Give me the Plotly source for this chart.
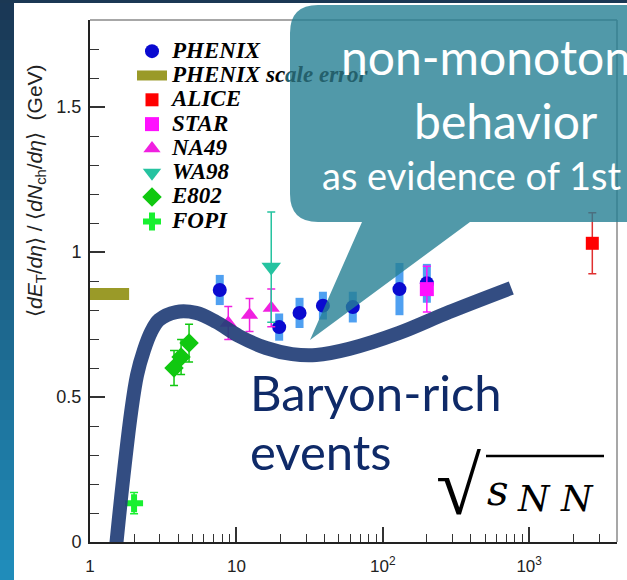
import plotly.graph_objects as go

# ---------------- data ----------------
phenix_x = [7.7, 19.6, 27, 39, 62.4, 130, 200]
phenix_y = [0.869, 0.741, 0.79, 0.815, 0.81, 0.872, 0.892]
phenix_sys = [0.052, 0.047, 0.052, 0.048, 0.053, 0.09, 0.067]

scale_x = [1.0, 1.85]
scale_y = [0.855, 0.855]

alice_x = [2700]
alice_y = [1.03]
alice_err = [0.105]

star_x = [200]
star_y = [0.872]
star_err = [0.079]

na49_x = [8.8, 12.3, 17.3]
na49_y = [0.755, 0.783, 0.807]
na49_err = [0.057, 0.057, 0.065]

wa98_x = [17.3]
wa98_y = [0.948]
wa98_err = [0.19]

e802_x = [3.75, 4.19, 4.75]
e802_y = [0.60, 0.638, 0.686]
e802_err = [0.06, 0.06, 0.065]

fopi_x = [2.0]
fopi_y = [0.134]
fopi_err = [0.037]

# hand-drawn "non-monotonic" curve overlay (GeV, value)
curve_x = [1.506, 1.681, 1.906, 2.096, 2.339, 2.612, 2.962, 3.871, 5.304, 7.264,
           10.43, 15.96, 24.03, 35.06, 58.93, 129.5, 284.4, 754.8]
curve_y = [-0.017, 0.214, 0.445, 0.576, 0.662, 0.724, 0.766, 0.793, 0.790, 0.759,
           0.710, 0.669, 0.648, 0.645, 0.666, 0.721, 0.793, 0.876]

x_tickvals = [1, 10, 100, 1000]
x_ticktext = ["1", "10", "10<sup>2</sup>", "10<sup>3</sup>"]
x_minor = [2, 3, 4, 5, 6, 7, 8, 9, 20, 30, 40, 50, 60, 70, 80, 90,
           200, 300, 400, 500, 600, 700, 800, 900, 2000, 3000]
y_tickvals = [0, 0.5, 1, 1.5]
y_ticktext = ["0", "0.5", "1", "1.5"]
y_minor = [0.1, 0.2, 0.3, 0.4, 0.6, 0.7, 0.8, 0.9, 1.1, 1.2, 1.3, 1.4, 1.6, 1.7]

# ---------------- layout geometry ----------------
W, H = 627, 580
L, R, T, B = 90, 10, 20, 38
PW, PH = W - L - R, H - T - B


def X(px):
    return (px - L) / PW


def Y(py):
    return (H - B - py) / PH


def big(name):
    return "<span style='font-size:23px'>" + name + "</span>"


fig = go.Figure()

# PHENIX systematic bars
fig.add_trace(go.Scatter(
    x=phenix_x, y=phenix_y, mode="markers", showlegend=False,
    marker=dict(size=1, color="rgba(0,0,0,0)"),
    error_y=dict(type="data", array=phenix_sys, thickness=8, width=0,
                 color="rgba(60,150,240,0.9)"),
    hoverinfo="skip"))

fig.add_trace(go.Scatter(
    x=phenix_x, y=phenix_y, mode="markers", name=big("PHENIX"), legendrank=1,
    marker=dict(symbol="circle", size=14, color="#0a0ad0")))

fig.add_trace(go.Scatter(
    x=scale_x, y=scale_y, mode="lines", legendrank=2,
    name=big("PHENIX sc<span style='color:#24606c'>ale error</span>"),
    line=dict(color="#9a9a28", width=12)))

fig.add_trace(go.Scatter(
    x=alice_x, y=alice_y, mode="markers", name=big("ALICE"), legendrank=3,
    marker=dict(symbol="square", size=13, color="#ff0000"),
    error_y=dict(type="data", array=alice_err, thickness=1.5, width=4,
                 color="#e03030")))

fig.add_trace(go.Scatter(
    x=star_x, y=star_y, mode="markers", name=big("STAR"), legendrank=4,
    marker=dict(symbol="square", size=14, color="#ff10ff"),
    error_y=dict(type="data", array=star_err, thickness=1.5, width=4,
                 color="#ff10ff")))

fig.add_trace(go.Scatter(
    x=na49_x, y=na49_y, mode="markers", name=big("NA49"), legendrank=5,
    marker=dict(symbol="triangle-up", size=15, color="#f020e0"),
    error_y=dict(type="data", array=na49_err, thickness=1.5, width=4,
                 color="#f020e0")))

fig.add_trace(go.Scatter(
    x=wa98_x, y=wa98_y, mode="markers", name=big("WA98"), legendrank=6,
    marker=dict(symbol="triangle-down", size=17, color="#25c3a0"),
    error_y=dict(type="data", array=wa98_err, thickness=1.5, width=4,
                 color="#25c3a0")))

fig.add_trace(go.Scatter(
    x=e802_x, y=e802_y, mode="markers", name=big("E802"), legendrank=7,
    marker=dict(symbol="diamond", size=15, color="#10c810"),
    error_y=dict(type="data", array=e802_err, thickness=1.5, width=4,
                 color="#10c810")))

fig.add_trace(go.Scatter(
    x=fopi_x, y=fopi_y, mode="markers", name=big("FOPI"), legendrank=8,
    marker=dict(symbol="cross", size=15, color="#18f030"),
    error_y=dict(type="data", array=fopi_err, thickness=1.5, width=4,
                 color="#18f030")))

# thick overlay curve
fig.add_trace(go.Scatter(
    x=curve_x, y=curve_y, mode="lines", showlegend=False,
    line=dict(color="rgba(36,64,120,0.93)", width=14, shape="spline", smoothing=1.0),
    hoverinfo="skip"))

shapes = []
# top & right thin gray frame
shapes.append(dict(type="line", xref="paper", yref="paper", x0=0, x1=1, y0=1, y1=1,
                   line=dict(color="#8a8a8a", width=1.5)))
shapes.append(dict(type="line", xref="paper", yref="paper", x0=1, x1=1, y0=0, y1=1,
                   line=dict(color="#8a8a8a", width=1.5)))

# slide background strips (left gradient + top band)
nb = 29
c0 = (26, 56, 86)
c1 = (32, 140, 186)
for i in range(nb):
    t = i / (nb - 1)
    col = "rgb(%d,%d,%d)" % tuple(int(c0[k] + (c1[k] - c0[k]) * t) for k in range(3))
    y0p = i * H / nb
    y1p = (i + 1) * H / nb + 0.5
    shapes.append(dict(type="rect", xref="paper", yref="paper", layer="above",
                       x0=X(0), x1=X(14), y0=Y(y0p), y1=Y(y1p),
                       fillcolor=col, line=dict(width=0)))
shapes.append(dict(type="rect", xref="paper", yref="paper", layer="above",
                   x0=X(0), x1=X(W), y0=Y(0), y1=Y(3),
                   fillcolor="rgb(27,56,84)", line=dict(width=0)))


def P(px, py):
    return "%.5f,%.5f" % (X(px), Y(py))


# callout bubble
r = 28
path = ("M " + P(290 + r, 5) + " L " + P(720, 5) + " L " + P(720, 222) +
        " L " + P(470, 222) + " L " + P(310, 340) + " L " + P(362, 222) +
        " L " + P(290 + r, 222) + " Q " + P(290, 222) + " " + P(290, 222 - r) +
        " L " + P(290, 5 + r) + " Q " + P(290, 5) + " " + P(290 + r, 5) + " Z")
shapes.append(dict(type="path", xref="paper", yref="paper", layer="above", path=path,
                   fillcolor="rgba(38,128,148,0.80)", line=dict(width=0)))

# sqrt overline
shapes.append(dict(type="line", xref="paper", yref="paper", layer="above",
                   x0=X(486), x1=X(604), y0=Y(456), y1=Y(456),
                   line=dict(color="black", width=2.5)))

annotations = []


def ann(text, px, py, size, family, color, xanchor="left", **kw):
    annotations.append(dict(text=text, xref="paper", yref="paper", x=X(px), y=Y(py),
                            xanchor=xanchor, yanchor="middle", showarrow=False,
                            font=dict(size=size, family=family, color=color), **kw))


ann("non-monotonic", 339, 56, 48, "Lato", "white")
ann("behavior", 412, 121, 48, "Lato", "white")
ann("as evidence of 1st order", 320, 175, 38, "Lato", "white")
ann("Baryon-rich", 248, 392, 49, "Lato", "#0f2a68")
ann("events", 248, 451, 49, "Lato", "#0f2a68")

# sqrt(s_NN)
ann("√", 434, 486, 82, "Liberation Serif", "black")
ann("<i>s</i>", 485, 490, 42, "DejaVu Serif", "black")
ann("<i>N N</i>", 515, 498, 36, "DejaVu Serif", "black")

# y-axis title
ann("⟨<i>dE</i><sub>T</sub>/<i>dη</i>⟩ / ⟨<i>dN</i><sub>ch</sub>/<i>dη</i>⟩  (GeV)",
    36, 191, 21, "Liberation Sans", "#222", xanchor="center", textangle=-90)

fig.update_layout(
    width=W, height=H,
    margin=dict(l=L, r=R, t=T, b=B, pad=0, autoexpand=False),
    paper_bgcolor="white", plot_bgcolor="white",
    showlegend=True,
    legend=dict(x=X(132), y=Y(34), xanchor="left", yanchor="top",
                bgcolor="rgba(0,0,0,0)", tracegroupgap=0, itemsizing="trace",
                font=dict(family="Liberation Serif", size=16.4, color="black",
                          weight="bold", style="italic")),
    shapes=shapes, annotations=annotations,
    xaxis=dict(type="log", range=[0, 3.6], showgrid=False, zeroline=False,
               automargin=False,
               showline=True, linecolor="#222", linewidth=2,
               ticks="inside", ticklen=15, tickwidth=1.5, tickcolor="#333",
               tickvals=x_tickvals, ticktext=x_ticktext, ticklabelstandoff=8,
               tickfont=dict(family="Liberation Sans", size=17, color="#222"),
               minor=dict(tickvals=x_minor, ticks="inside", ticklen=8,
                          tickwidth=1.2, tickcolor="#333", showgrid=False)),
    yaxis=dict(range=[0, 1.8], showgrid=False, zeroline=False,
               automargin=False,
               showline=True, linecolor="#222", linewidth=2,
               ticks="inside", ticklen=15, tickwidth=1.5, tickcolor="#333",
               tickvals=y_tickvals, ticktext=y_ticktext, ticklabelstandoff=3,
               tickfont=dict(family="Liberation Sans", size=18, color="#222"),
               minor=dict(tickvals=y_minor, ticks="inside", ticklen=9,
                          tickwidth=1.2, tickcolor="#333", showgrid=False)),
)

fig.write_html("out.html")
